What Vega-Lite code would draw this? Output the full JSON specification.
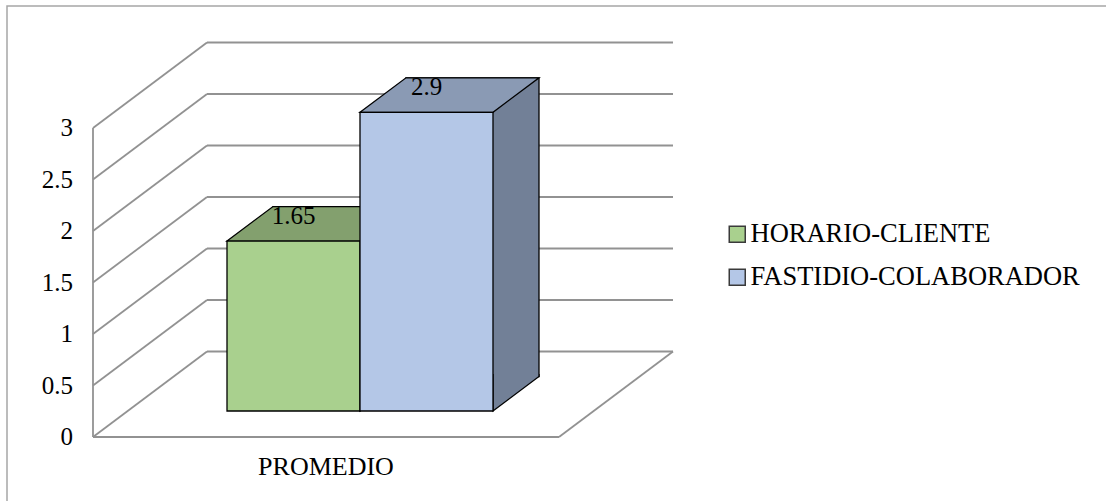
{
  "$schema": "https://vega.github.io/schema/vega-lite/v6.json",
  "width": 1110,
  "height": 505,
  "autosize": {"type": "none"},
  "padding": {"left": 7, "top": 6, "right": -11, "bottom": -10},
  "background": "white",
  "config": {"view": {"stroke": "#a6a6a6", "strokeWidth": 1.5}, "font": "Liberation Serif"},
  "datasets": {
    "barras": [
      {"serie": "HORARIO-CLIENTE", "valor": 1.65},
      {"serie": "FASTIDIO-COLABORADOR", "valor": 2.9}
    ],
    "ejes": [
      {"v": 0}, {"v": 0.5}, {"v": 1}, {"v": 1.5}, {"v": 2}, {"v": 2.5}, {"v": 3}
    ],
    "categorias": [
      {"categoria": "PROMEDIO"}
    ]
  },
  "resolve": {"scale": {"x": "independent"}},
  "layer": [
    {
      "data": {"name": "ejes"},
      "layer": [
        {
          "mark": {"type": "rule", "color": "#929292", "strokeWidth": 1.8, "xOffset": 114, "x2Offset": 114, "yOffset": -85.5, "y2Offset": -85.5},
          "encoding": {
            "x": {"datum": 0, "type": "quantitative",
                  "scale": {"domain": [0, 1], "range": [86, 552], "nice": false, "zero": false},
                  "axis": null},
            "x2": {"datum": 1},
            "y": {"field": "v", "type": "quantitative",
                  "scale": {"domain": [0, 3], "range": [431, 122], "nice": false, "zero": false},
                  "axis": null}
          }
        },
        {
          "mark": {"type": "rule", "color": "#929292", "strokeWidth": 1.8, "x2Offset": 114, "y2Offset": -85.5},
          "encoding": {
            "x": {"datum": 0, "type": "quantitative", "axis": null},
            "x2": {"datum": 0},
            "y": {"field": "v", "type": "quantitative", "axis": null},
            "y2": {"field": "v"}
          }
        },
        {
          "transform": [{"filter": "datum.v == 0"}],
          "mark": {"type": "rule", "color": "#929292", "strokeWidth": 1.8},
          "encoding": {
            "x": {"datum": 0, "type": "quantitative", "axis": null},
            "x2": {"datum": 1},
            "y": {"field": "v", "type": "quantitative", "axis": null}
          }
        },
        {
          "transform": [{"filter": "datum.v == 0"}],
          "mark": {"type": "rule", "color": "#929292", "strokeWidth": 1.8},
          "encoding": {
            "x": {"datum": 0, "type": "quantitative", "axis": null},
            "y": {"datum": 0, "type": "quantitative", "axis": null},
            "y2": {"datum": 3}
          }
        },
        {
          "transform": [{"filter": "datum.v == 0"}],
          "mark": {"type": "rule", "color": "#929292", "strokeWidth": 1.8, "x2Offset": 114, "y2Offset": -85.5},
          "encoding": {
            "x": {"datum": 1, "type": "quantitative", "axis": null},
            "x2": {"datum": 1},
            "y": {"field": "v", "type": "quantitative", "axis": null},
            "y2": {"field": "v"}
          }
        },
        {
          "mark": {"type": "text", "font": "Liberation Serif", "fontSize": 25, "color": "black", "align": "right", "baseline": "middle", "xOffset": -20},
          "encoding": {
            "x": {"datum": 0, "type": "quantitative", "axis": null},
            "y": {"field": "v", "type": "quantitative", "axis": null},
            "text": {"field": "v", "type": "quantitative", "format": "~g"}
          }
        },
        {
          "data": {"name": "categorias"},
          "mark": {"type": "text", "font": "Liberation Serif", "fontSize": 26, "color": "black", "align": "center", "baseline": "middle", "yOffset": 30},
          "encoding": {
            "x": {"datum": 0.5, "type": "quantitative", "axis": null},
            "y": {"datum": 0, "type": "quantitative", "axis": null},
            "text": {"field": "categoria", "type": "nominal"}
          }
        }
      ]
    },
    {
      "data": {"name": "barras"},
      "layer": [
        {
          "mark": {"type": "bar", "stroke": "black", "strokeWidth": 1.3, "xOffset": 46, "yOffset": -60.5, "y2Offset": -60.5},
          "encoding": {
            "x": {"field": "serie", "type": "nominal",
                  "scale": {"type": "band", "domain": ["HORARIO-CLIENTE", "FASTIDIO-COLABORADOR"], "range": [220, 486], "paddingInner": 0, "paddingOuter": 0},
                  "axis": null},
            "y": {"field": "valor", "type": "quantitative", "stack": null, "scale": {"domain": [0, 3], "range": [431, 122], "nice": false, "zero": false}, "axis": null},
            "y2": {"datum": 0},
            "fill": {"condition": {"test": "datum.serie === 'HORARIO-CLIENTE'", "value": "#6E8A5B"}, "value": "#728097"}
          }
        },
        {
          "mark": {"type": "point", "shape": "M-66.5,0L-20.5,-34.5L112.5,-34.5L66.5,0Z", "size": 4, "filled": true, "opacity": 1, "stroke": "black", "strokeWidth": 1.3, "yOffset": -26},
          "encoding": {
            "x": {"field": "serie", "type": "nominal", "axis": null},
            "y": {"field": "valor", "type": "quantitative", "axis": null},
            "fill": {"condition": {"test": "datum.serie === 'HORARIO-CLIENTE'", "value": "#83A06E"}, "value": "#8A9AB4"}
          }
        },
        {
          "mark": {"type": "point", "shape": "M66.5,-37L66.5,0L112.5,-34.5L112.5,-37", "size": 4, "filled": true, "opacity": 1, "stroke": "black", "strokeWidth": 1.3, "yOffset": -26},
          "encoding": {
            "x": {"field": "serie", "type": "nominal", "axis": null},
            "y": {"datum": 0, "type": "quantitative", "axis": null},
            "fill": {"condition": {"test": "datum.serie === 'HORARIO-CLIENTE'", "value": "#6E8A5B"}, "value": "#728097"}
          }
        },
        {
          "mark": {"type": "bar", "stroke": "black", "strokeWidth": 1.3, "yOffset": -26, "y2Offset": -26},
          "encoding": {
            "x": {"field": "serie", "type": "nominal", "axis": null},
            "y": {"field": "valor", "type": "quantitative", "stack": null, "axis": null},
            "y2": {"datum": 0},
            "fill": {"field": "serie", "type": "nominal",
                     "scale": {"domain": ["HORARIO-CLIENTE", "FASTIDIO-COLABORADOR"], "range": ["#A9D08E", "#B4C7E7"]},
                     "legend": {"title": null, "orient": "none", "legendX": 717, "legendY": 215, "symbolType": "square", "symbolSize": 256, "symbolStrokeColor": "#3a3a3a", "symbolStrokeWidth": 1.5, "labelFont": "Liberation Serif", "labelFontSize": 26.5, "labelColor": "black", "labelOffset": 0, "labelLimit": 0, "rowPadding": 16, "padding": 0}}
          }
        },
        {
          "mark": {"type": "text", "font": "Liberation Serif", "fontSize": 25, "color": "black", "baseline": "middle", "yOffset": -51},
          "encoding": {
            "x": {"field": "serie", "type": "nominal", "axis": null},
            "y": {"field": "valor", "type": "quantitative", "axis": null},
            "text": {"field": "valor", "type": "quantitative", "format": "~g"}
          }
        }
      ]
    }
  ]
}
